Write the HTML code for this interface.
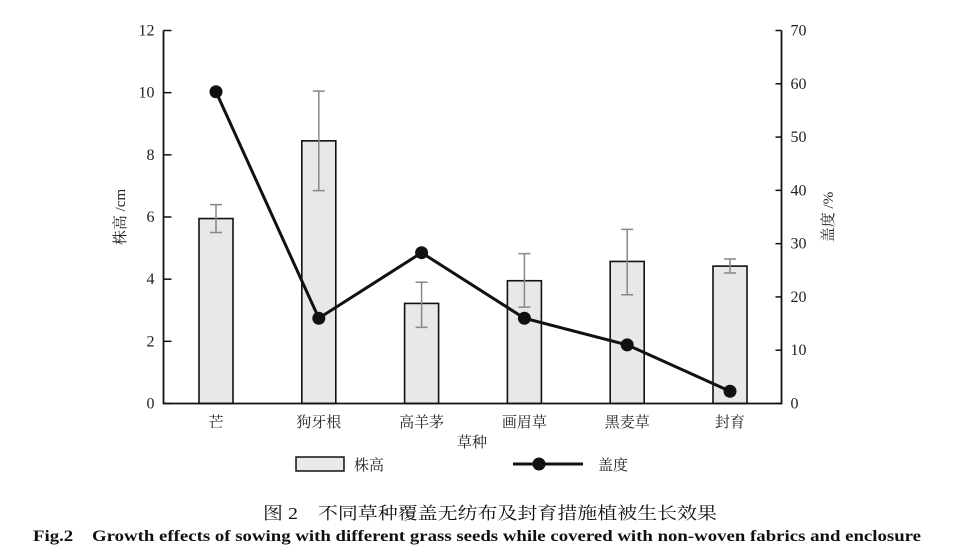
<!DOCTYPE html>
<html><head><meta charset="utf-8"><style>
body{margin:0;background:#fff;}
svg{display:block;font-family:"Liberation Serif","Noto Serif CJK SC",serif;}
</style></head><body>
<svg id="c" width="955" height="555" viewBox="0 0 955 555"></svg>
<script>
const categories=["芒","狗牙根","高羊茅","画眉草","黑麦草","封育"];
const heights=[5.95,8.45,3.22,3.95,4.57,4.42];
const errHigh=[6.4,10.05,3.9,4.82,5.6,4.65];
const errLow=[5.5,6.85,2.45,3.1,3.5,4.2];
const coverage=[58.5,16,28.3,16,11,2.3];
const leftTicks=[0,2,4,6,8,10,12];
const rightTicks=[0,10,20,30,40,50,60,70];
const NS="http://www.w3.org/2000/svg";
const svg=document.getElementById('c');
const X0=163.5,X1=781.5,Y0=403.5,Y1=30.5;
const yL=v=>Y0-(v/12)*(Y0-Y1);
const yR=v=>Y0-(v/70)*(Y0-Y1);
const step=102.8;
const xC=i=>216+i*step;
function el(t,a,txt){const e=document.createElementNS(NS,t);for(const k in a)e.setAttribute(k,a[k]);if(txt!==undefined)e.textContent=txt;svg.appendChild(e);return e;}
heights.forEach((h,i)=>{
 const b=el('rect',{x:xC(i)-17,y:yL(h),width:34,height:Y0-yL(h),fill:'#e8e8e8',stroke:'#111','stroke-width':1.6});
 
 
 const e=el('path',{d:`M${xC(i)} ${yL(errHigh[i])}V${yL(errLow[i])}M${xC(i)-6} ${yL(errHigh[i])}h12M${xC(i)-6} ${yL(errLow[i])}h12`,stroke:'#888','stroke-width':1.5,fill:'none'});
 
 
 const t=el('text',{x:xC(i),y:427,'text-anchor':'middle','font-size':15,fill:'#222'},categories[i]);
 
 
});
const ax=el('path',{d:`M${X0} ${Y1}V${Y0}H${X1}V${Y1}`,stroke:'#111','stroke-width':1.8,fill:'none'});


leftTicks.forEach(v=>{
 el('path',{d:`M${X0} ${yL(v)}h8`,stroke:'#111','stroke-width':1.5});
 const t=el('text',{x:X0-9,y:yL(v)+5,'text-anchor':'end','font-size':16,fill:'#222'},v);
 
 
});
rightTicks.forEach(v=>{
 el('path',{d:`M${X1} ${yR(v)}h-6`,stroke:'#111','stroke-width':1.5});
 const t=el('text',{x:X1+9,y:yR(v)+5,'font-size':16,fill:'#222'},v);
 
 
});
const pts=coverage.map((v,i)=>xC(i)+','+yR(v)).join(' ');
const ln=el('polyline',{points:pts,fill:'none',stroke:'#111','stroke-width':3});


coverage.forEach((v,i)=>{
 const c=el('circle',{cx:xC(i),cy:yR(v),r:6.5,fill:'#111'});
 
 
});
</script>
<svg width="955" height="555" style="position:absolute;left:0;top:0;font-family:'Liberation Serif','Noto Serif CJK SC',serif">
<text x="125" y="217" font-size="15" fill="#222" text-anchor="middle" transform="rotate(-90 125 217)">株高 /cm</text>
<text x="833" y="217" font-size="15" fill="#222" text-anchor="middle" transform="rotate(-90 833 217)">盖度 /%</text>
<text x="472" y="447" font-size="15" fill="#222" text-anchor="middle">草种</text>
<g>
<rect x="296" y="457" width="48" height="14" fill="#e8e8e8" stroke="#111" stroke-width="1.5"/>
<text x="354" y="470" font-size="15" fill="#222">株高</text>
<path d="M513 464h70" stroke="#111" stroke-width="3"/>
<circle cx="539" cy="464" r="6.5" fill="#111"/>
<text x="598" y="470" font-size="15" fill="#222">盖度</text>
</g>
<text x="263" y="519" font-size="17" fill="#111" textLength="454" lengthAdjust="spacingAndGlyphs">图 2　不同草种覆盖无纺布及封育措施植被生长效果</text>
<text x="33" y="541" font-size="16" font-weight="bold" fill="#111" textLength="888" lengthAdjust="spacingAndGlyphs">Fig.2　Growth effects of sowing with different grass seeds while covered with non-woven fabrics and enclosure</text>
</svg>
</body></html>
